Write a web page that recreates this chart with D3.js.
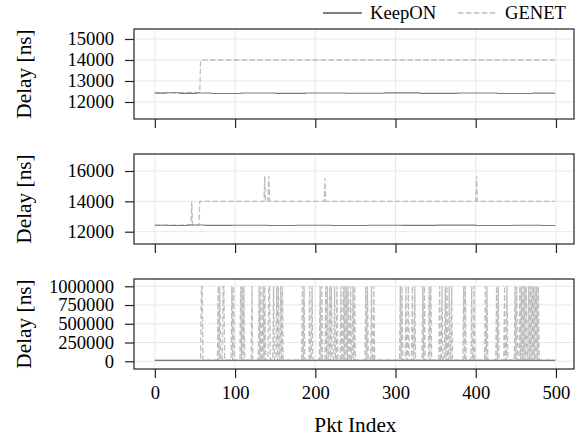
<!DOCTYPE html>
<html>
<head>
<meta charset="utf-8">
<script src="https://cdn.jsdelivr.net/npm/d3@7"></script>
<style>
  html, body { margin: 0; padding: 0; background: #fff; }
  svg text { font-family: 'Liberation Serif', 'Times New Roman', Times, 'DejaVu Serif', serif !important; }
</style>
</head>
<body>
<svg id="chart" width="580" height="438"></svg>
<script>
// ---------------- data ----------------
const seriesNames = ["KeepON", "GENET"];
const pktIndex = d3.range(0, 500);           // packet indices 0..499
const xTicks = [0, 100, 200, 300, 400, 500];

const yTicksP1 = [12000, 13000, 14000, 15000];
const yTicksP2 = [12000, 14000, 16000];
const yTicksP3 = [0, 250000, 500000, 750000, 1000000];

// KeepON: run-length segments [startIndex, delay ns]
const keeponRunsP1 = [[0,12420],[14,12440],[31,12410],[52,12430],[71,12405],[108,12425],[151,12410],[189,12430],[238,12415],[287,12435],[331,12410],[379,12425],[428,12405],[471,12420]];
const keeponRunsP2 = [[0,12430],[18,12410],[40,12440],[63,12415],[97,12430],[142,12405],[176,12425],[221,12410],[265,12430],[309,12415],[352,12435],[401,12410],[447,12425],[483,12410]];
const keeponRunsP3 = [[0,12420],[100,12430],[250,12410],[400,12425]];

// GENET: run-length segments [startIndex, delay ns]
const genetRunsP1 = [[0,12450],[57,14000]];
const genetRunsP2 = [[0,12440],[46,14000],[47,12440],[56,14000],[137,15650],[138,14000],[142,15650],[143,14000],[212,15520],[213,14000],[401,15650],[402,14000]];
const genetRunsP3 = [[0,12450],[57,14000]];
// GENET timeout spikes in panel 3 (indices reaching 1,000,000 ns)
const genetSpikesP3 = [58,59,79,81,85,86,96,98,107,109,111,121,130,132,135,137,142,143,148,152,154,157,159,184,186,193,196,206,208,213,215,218,220,224,227,232,235,237,239,241,244,247,249,263,265,270,273,306,308,313,316,321,324,334,336,342,344,355,358,362,364,367,370,385,387,395,398,412,414,426,428,436,439,449,451,455,457,459,461,463,466,468,470,472,474,476,478];
const spikeValue = 1000000;

// ---------------- helpers ----------------
function expandRuns(runs) {
  return pktIndex.map(i => {
    let v = runs[0][1];
    for (const r of runs) { if (i >= r[0]) v = r[1]; }
    return v;
  });
}

const keeponP1 = expandRuns(keeponRunsP1);
const keeponP2 = expandRuns(keeponRunsP2);
const keeponP3 = expandRuns(keeponRunsP3);
const genetP1 = expandRuns(genetRunsP1);
const genetP2 = expandRuns(genetRunsP2);
const genetP3 = expandRuns(genetRunsP3).map((v, i) => genetSpikesP3.includes(i) ? spikeValue : v);

// ---------------- layout ----------------
const FONT = "'Liberation Serif', 'Times New Roman', Times, 'DejaVu Serif', serif";
const svg = d3.select("#chart").attr("font-family", FONT);
const left = 134, right = 574;
const panels = [
  { top: 29,  bottom: 119, domain: [11190, 15476], ticks: yTicksP1, keep: keeponP1, genet: genetP1 },
  { top: 154, bottom: 244, domain: [11190, 17120], ticks: yTicksP2, keep: keeponP2, genet: genetP2 },
  { top: 279, bottom: 369, domain: [-103000, 1097000], ticks: yTicksP3, keep: keeponP3, genet: genetP3 }
];

const x = d3.scaleLinear().domain([-26, 522.5]).range([left, right]);

const keepColor = "#7a7a7a";
const genetColor = "#bdbdbd";
const gridColor = "#e8e8e8";
const frameColor = "#222";
const tickFont = "18.6px";

panels.forEach((p, pi) => {
  const y = d3.scaleLinear().domain(p.domain).range([p.bottom, p.top]);
  const g = svg.append("g");

  const cid = "clip" + pi;
  svg.append("clipPath").attr("id", cid)
    .append("rect").attr("x", left).attr("y", p.top).attr("width", right - left).attr("height", p.bottom - p.top);

  // grid
  g.append("g").selectAll("line").data(xTicks).join("line")
    .attr("x1", d => x(d)).attr("x2", d => x(d))
    .attr("y1", p.top).attr("y2", p.bottom)
    .attr("stroke", gridColor).attr("stroke-width", 1);
  g.append("g").selectAll("line").data(p.ticks).join("line")
    .attr("x1", left).attr("x2", right)
    .attr("y1", d => y(d)).attr("y2", d => y(d))
    .attr("stroke", gridColor).attr("stroke-width", 1);

  const line = d3.line().x((d, i) => x(pktIndex[i])).y(d => y(d));

  const lines = g.append("g").attr("clip-path", `url(#${cid})`);
  lines.append("path").datum(p.genet)
    .attr("d", line).attr("fill", "none")
    .attr("stroke", genetColor).attr("stroke-width", 1.3)
    .attr("stroke-dasharray", "5.5,2.4");
  lines.append("path").datum(p.keep)
    .attr("d", line).attr("fill", "none")
    .attr("stroke", keepColor).attr("stroke-width", 1.1);

  // frame
  g.append("rect").attr("x", left).attr("y", p.top)
    .attr("width", right - left).attr("height", p.bottom - p.top)
    .attr("fill", "none").attr("stroke", frameColor).attr("stroke-width", 1.2);

  // y axis
  const ya = g.append("g").attr("transform", `translate(${left},0)`)
    .call(d3.axisLeft(y).tickValues(p.ticks).tickFormat(d3.format("d")).tickSize(9).tickSizeOuter(0).tickPadding(11));
  ya.attr("font-family", FONT).attr("font-size", tickFont);
  ya.select(".domain").remove();
  ya.selectAll(".tick line").attr("stroke", frameColor).attr("stroke-width", 1.2);
  ya.selectAll(".tick text").attr("fill", "#000");

  // x axis
  const xa = g.append("g").attr("transform", `translate(0,${p.bottom})`)
    .call(d3.axisBottom(x).tickValues(xTicks).tickFormat(d3.format("d")).tickSize(9).tickSizeOuter(0).tickPadding(8));
  xa.attr("font-family", FONT).attr("font-size", tickFont);
  xa.select(".domain").remove();
  xa.selectAll(".tick line").attr("stroke", frameColor).attr("stroke-width", 1.2);
  if (pi < 2) {
    xa.selectAll(".tick text").remove();
  } else {
    xa.selectAll(".tick text").attr("fill", "#000");
  }

  // y label
  const cy = (p.top + p.bottom) / 2;
  g.append("text")
    .attr("transform", `translate(31,${cy}) rotate(-90)`)
    .attr("text-anchor", "middle")
    .attr("font-family", FONT)
    .attr("font-size", "21.3px")
    .attr("fill", "#000")
    .text("Delay [ns]");
});

// x label
svg.append("text")
  .attr("x", (x(0) + x(500)) / 2).attr("y", 432)
  .attr("text-anchor", "middle")
  .attr("font-family", FONT)
  .attr("font-size", "21.3px")
  .attr("fill", "#000")
  .text("Pkt Index");

// legend
const legend = svg.append("g");
const legItems = [
  { name: seriesNames[0], x0: 323, color: "#555", dash: null, w: 1.4 },
  { name: seriesNames[1], x0: 458, color: genetColor, dash: "5.5,2.4", w: 1.3 }
];
legItems.forEach(it => {
  legend.append("line")
    .attr("x1", it.x0).attr("x2", it.x0 + 39)
    .attr("y1", 13).attr("y2", 13)
    .attr("stroke", it.color).attr("stroke-width", it.w)
    .attr("stroke-dasharray", it.dash);
  legend.append("text")
    .attr("x", it.x0 + 47).attr("y", 19)
    .attr("font-family", FONT)
    .attr("font-size", "18.6px")
    .attr("fill", "#000")
    .text(it.name);
});
</script>
</body>
</html>
